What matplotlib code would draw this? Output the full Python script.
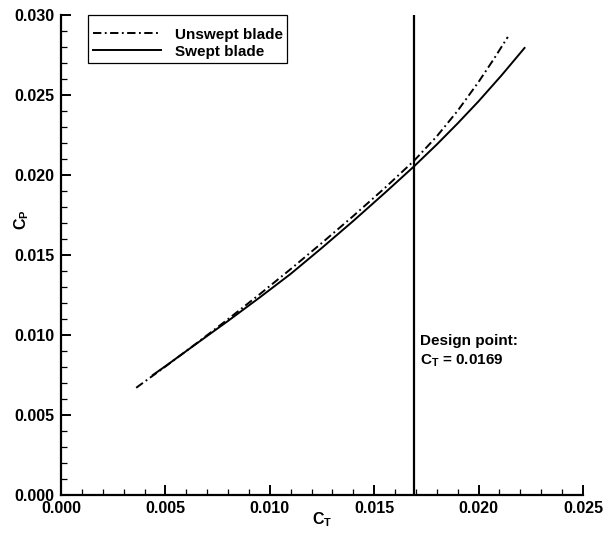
import matplotlib
matplotlib.use("Agg")
import matplotlib.pyplot as plt
from matplotlib.patches import Rectangle
from matplotlib.ticker import MultipleLocator, FormatStrFormatter

plt.rcParams['font.family'] = ['Liberation Sans', 'DejaVu Sans']
plt.rcParams['font.weight'] = 'bold'
plt.rcParams['mathtext.fontset'] = 'custom'
plt.rcParams['mathtext.rm'] = 'Liberation Sans:bold'
plt.rcParams['mathtext.it'] = 'Liberation Sans:bold'
plt.rcParams['mathtext.bf'] = 'Liberation Sans:bold'
plt.rcParams['lines.scale_dashes'] = False

# Power coefficient vs thrust coefficient
ct_unswept = [0.0036, 0.0050, 0.0065, 0.0080, 0.0095, 0.0110, 0.0125, 0.0140,
              0.0155, 0.0169, 0.0180, 0.0190, 0.0200, 0.0207, 0.0214]
cp_unswept = [0.00670, 0.00803, 0.00949, 0.01099, 0.01253, 0.01412, 0.01576, 0.01744,
              0.01918, 0.02088, 0.02242, 0.02402, 0.02582, 0.02719, 0.02863]

ct_swept = [0.0044, 0.0050, 0.0065, 0.0080, 0.0095, 0.0110, 0.0125, 0.0140,
            0.0155, 0.0169, 0.0180, 0.0190, 0.0200, 0.0211, 0.0222]
cp_swept = [0.00750, 0.00805, 0.00947, 0.01088, 0.01233, 0.01382, 0.01545, 0.01713,
            0.01887, 0.02053, 0.02191, 0.02323, 0.02461, 0.02623, 0.02794]

design_ct = 0.0169

W, H = 603, 533
fig = plt.figure(figsize=(W / 100, H / 100), dpi=100)
ax = fig.add_axes([61 / W, 1 - 495 / H, (583 - 61) / W, (495 - 15) / H])

ax.plot(ct_unswept, cp_unswept, color='black', lw=1.4,
        dashes=(6, 2.5, 1.3, 2.5), label='Unswept blade')
ax.plot(ct_swept, cp_swept, color='black', lw=1.4, label='Swept blade')
ax.axvline(design_ct, color='black', lw=1.6)

ax.text(design_ct + 0.0003, 0.00965, 'Design point:', fontsize=11,
        fontweight='bold', va='center', ha='left')
ax.text(design_ct + 0.0003, 0.00840, r'$\mathrm{C_T}$' + ' = %.4f' % design_ct,
        fontsize=11, fontweight='bold', va='center', ha='left')

ax.set_xlim(0.0, 0.025)
ax.set_ylim(0.0, 0.030)
ax.xaxis.set_major_locator(MultipleLocator(0.005))
ax.xaxis.set_minor_locator(MultipleLocator(0.001))
ax.yaxis.set_major_locator(MultipleLocator(0.005))
ax.yaxis.set_minor_locator(MultipleLocator(0.001))
ax.xaxis.set_major_formatter(FormatStrFormatter('%.3f'))
ax.yaxis.set_major_formatter(FormatStrFormatter('%.3f'))

for side in ('top', 'right'):
    ax.spines[side].set_visible(False)
for side in ('left', 'bottom'):
    ax.spines[side].set_linewidth(1.6)

ax.tick_params(which='both', direction='in', labelsize=11.5)
ax.tick_params(which='major', length=7.5, width=1.4, pad=4.5)
ax.tick_params(which='minor', length=4, width=0.9)
for lab in ax.get_xticklabels() + ax.get_yticklabels():
    lab.set_fontweight('bold')

ax.set_xlabel(r'$\mathrm{C_T}$', fontsize=11.5)
ax.xaxis.set_label_coords(0.5, -(510 - 495) / 480)
ax.set_ylabel(r'$\mathrm{C_P}$', fontsize=11.5)
ax.yaxis.set_label_coords((31 - 61) / 522, (495 - 220) / 480)

leg = ax.legend(loc='upper left',
                bbox_to_anchor=(92.7 / W, 1 - 27.5 / H),
                bbox_transform=fig.transFigure,
                frameon=False, fontsize=11, handlelength=4.5,
                handletextpad=0.9, borderpad=0.0, labelspacing=0.2,
                borderaxespad=0.0)
for t in leg.get_texts():
    t.set_fontweight('bold')

# legend frame
fig.patches.append(Rectangle((87.7 / W, 1 - 62.7 / H), 199.3 / W, 47.7 / H,
                             transform=fig.transFigure, fill=False,
                             edgecolor='black', lw=0.9))

fig.savefig('out.png', dpi=100)
